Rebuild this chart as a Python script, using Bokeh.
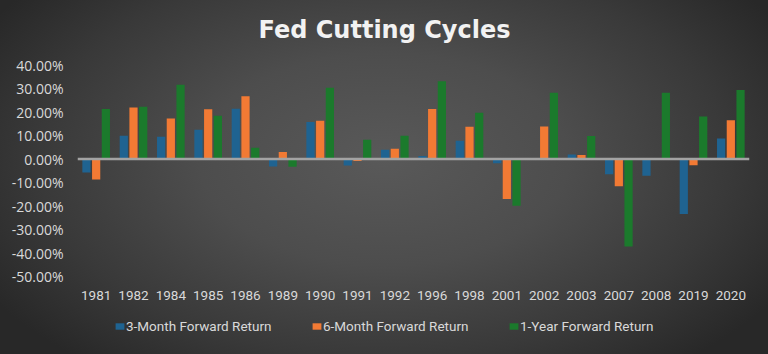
from bokeh.plotting import figure
from bokeh.models import (ColumnDataSource, FactorRange, Range1d, FixedTicker,
                          PrintfTickFormatter, Span, Legend, LegendItem, Label)
from bokeh.transform import dodge
from bokeh.embed import file_html
from bokeh.resources import INLINE

years = ["1981", "1982", "1984", "1985", "1986", "1989", "1990", "1991", "1992",
         "1996", "1998", "2001", "2002", "2003", "2007", "2008", "2019", "2020"]
ret_3m = [-5.7, 9.9, 9.5, 12.5, 21.4, -3.1, 15.8, -2.7, 4.0,
          1.3, 7.8, -1.8, 0.3, 2.0, -6.5, -7.1, -23.4, 8.8]
ret_6m = [-8.7, 22.0, 17.3, 21.2, 26.8, 3.0, 16.3, -0.8, 4.4,
          21.3, 13.8, -17.0, 13.9, 1.8, -11.6, 0.5, -2.6, 16.6]
ret_1y = [21.3, 22.3, 31.7, 18.5, 4.8, -3.3, 30.4, 8.2, 9.9,
          33.2, 19.7, -19.9, 28.3, 9.8, -37.2, 28.3, 18.2, 29.4]
y_ticks = [-50, -40, -30, -20, -10, 0, 10, 20, 30, 40]
series_names = ["3-Month Forward Return", "6-Month Forward Return", "1-Year Forward Return"]
title_text = "Fed Cutting Cycles"

src = ColumnDataSource(dict(year=years, r3=ret_3m, r6=ret_6m, r1=ret_1y))

W, H = 768, 354
# The frame spans the full height; the value scale puts 40 at 65 px from the top
# and -50 at 276 px; the room above holds the title, below the labels and legend.
y_top, y_min = 40, -50
top_px, bottom_px = 64.7, 276.0
ppu = (bottom_px - top_px) / (y_top - y_min)
y_end = y_top + top_px / ppu
y_start = y_min - (H - bottom_px) / ppu

p = figure(width=W, height=H, x_range=FactorRange(*years), y_range=Range1d(y_start, y_end),
           output_backend="svg", toolbar_location=None,
           min_border_left=77, min_border_right=19, min_border_top=0, min_border_bottom=0)

p.styles = {"background": "radial-gradient(ellipse 60% 75% at 50% 45%, #595959 0%, #4d4d4d 40%, #393939 75%, #282828 100%)"}
p.background_fill_alpha = 0
p.border_fill_alpha = 0
p.outline_line_color = None
p.xgrid.grid_line_color = None
p.ygrid.grid_line_color = None

colors = ["#1f6391", "#f27a34", "#1b7a2c"]
fields = ["r3", "r6", "r1"]
offsets = [-0.26, 0.0, 0.26]
renderers = []
for f, c, o in zip(fields, colors, offsets):
    r = p.vbar(x=dodge("year", o, range=p.x_range), top=f, bottom=0, width=0.22,
               source=src, fill_color=c, line_color=None)
    renderers.append(r)

zero = Span(location=0, dimension="width", line_color="#a3a3a3", line_width=2.5)
p.add_layout(zero)

# title, centred on the page (x in the category scale's synthetic units)
title_x = (W / 2 - 77) / ((W - 77 - 19) / len(years))
title_y = y_top + (top_px - 29) / ppu
p.add_layout(Label(x=title_x, y=title_y, text=title_text, text_align="center",
                   text_baseline="alphabetic", text_color="#f2f2f2",
                   text_font="DejaVu Sans", text_font_style="bold",
                   text_font_size="24px"))

# axes
p.yaxis.ticker = FixedTicker(ticks=y_ticks)
p.yaxis.formatter = PrintfTickFormatter(format="%.2f%%")
p.xaxis.fixed_location = y_min
for ax in (p.xaxis[0], p.yaxis[0]):
    ax.axis_line_color = None
    ax.major_tick_line_color = None
    ax.minor_tick_line_color = None
    ax.major_tick_out = 0
    ax.major_tick_in = 0
    ax.major_label_text_color = "#d9d9d9"
p.yaxis.major_label_text_font = "Open Sans"
p.yaxis.major_label_text_font_size = "14px"
p.xaxis.major_label_text_font = "Roboto"
p.xaxis.major_label_text_font_size = "13.5px"
p.yaxis.major_label_standoff = 14
p.xaxis.major_label_standoff = 14

legend = Legend(items=[LegendItem(label=n, renderers=[r]) for n, r in zip(series_names, renderers)],
                orientation="horizontal", location=(37, 20),
                glyph_width=11, glyph_height=8, label_standoff=1, label_width=183,
                label_height=14, spacing=2, padding=0, margin=0,
                border_line_color=None, background_fill_alpha=0,
                label_text_color="#d9d9d9", label_text_font="Roboto",
                label_text_font_size="13.5px")
p.add_layout(legend, "center")

open("out.html", "w").write(file_html(p, INLINE))
